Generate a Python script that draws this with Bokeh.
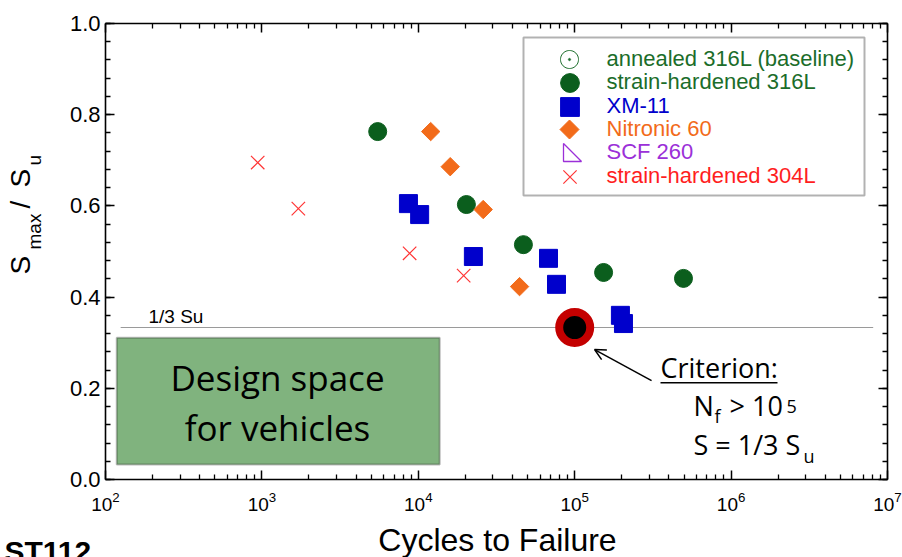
import math

from bokeh.embed import file_html
from bokeh.layouts import column, row
from bokeh.models import (Arrow, BoxAnnotation, FixedTicker, Label, Legend, LegendItem,
                          LinearAxis, LogAxis, LogTickFormatter, OpenHead, PolyAnnotation,
                          PrintfTickFormatter, Range1d, SingleIntervalTicker)
from bokeh.plotting import figure
from bokeh.resources import INLINE

# ---- fatigue data: cycles to failure and S_max / S_u ----
sh316_cycles = [5500, 20300, 47000, 153000, 496000]
sh316_ratio = [0.763, 0.603, 0.515, 0.454, 0.441]

xm11_cycles = [8650, 10200, 22500, 68000, 76500, 196000, 205000]
xm11_ratio = [0.605, 0.581, 0.489, 0.485, 0.428, 0.360, 0.342]

nitronic_cycles = [12000, 16000, 26000, 44400]
nitronic_ratio = [0.763, 0.686, 0.592, 0.423]

sh304_cycles = [940, 1710, 8800, 19500]
sh304_ratio = [0.695, 0.594, 0.496, 0.447]

annealed316_cycles = []
annealed316_ratio = []
scf260_cycles = []
scf260_ratio = []

# design criterion: N_f > 1e5 at S = 1/3 S_u
criterion_cycles = [1e5]
criterion_ratio = [1 / 3]
third_su = 1 / 3

x_decades = [1e2, 1e3, 1e4, 1e5, 1e6, 1e7]
x_minor = [m * d for d in x_decades[:-1] for m in range(2, 10)]

GREEN = "#0b5e1d"
GREEN_TXT = "#1b6d2a"
BLUE = "#0000cc"
ORANGE = "#f26b1a"
PURPLE = "#9b30d8"
RED = "#ff3535"
RED_TXT = "#ff1e1e"

HELV = "Liberation Sans"
CALI = "Open Sans"
# font descent as a fraction of the em size (labels are anchored at their bottom edge)
DESCENT = {HELV: 0.212, CALI: 0.293}


def bare_panel(w, h):
    """A figure whose frame fills it, used only to hold text."""
    f = figure(width=w, height=h, x_range=Range1d(0, 1), y_range=Range1d(0, 1),
               x_axis_location=None, y_axis_location=None,
               output_backend="svg", toolbar_location=None, min_border=0,
               min_border_left=0, min_border_right=0, min_border_top=0, min_border_bottom=0)
    f.grid.visible = False
    f.outline_line_color = None
    f.background_fill_color = "white"
    f.border_fill_color = "white"
    return f


def text(fig, txt, x, y, font, size, rotated=False, **kw):
    """Place txt with its baseline at (x, y) in frame pixels."""
    d = DESCENT[font] * size
    if rotated:
        x, kw["angle"] = x + d, math.pi / 2
    else:
        y = y - d
    fig.add_layout(Label(x=x, y=y, x_units="screen", y_units="screen", text=txt,
                         text_font=font, text_font_size=f"{size}px",
                         text_color="black", **kw))


# ---------------- main chart ----------------
p = figure(width=852, height=520, x_axis_type="log",
           x_range=Range1d(1e2, 1e7), y_range=Range1d(0, 1),
           output_backend="svg", toolbar_location=None,
           min_border_left=55, min_border_right=15,
           min_border_top=23, min_border_bottom=41)
p.grid.visible = False
p.outline_line_color = None
p.background_fill_color = "white"
p.border_fill_color = "white"

x_ticker = FixedTicker(ticks=x_decades, minor_ticks=x_minor)
y_ticker = SingleIntervalTicker(interval=0.2, num_minor_ticks=5)


def frame_axis(ax):
    ax.axis_line_color = "black"
    ax.axis_line_width = 1.6
    ax.major_tick_line_color = "black"
    ax.major_tick_line_width = 1.5
    ax.minor_tick_line_color = "black"
    ax.minor_tick_line_width = 1.3
    ax.major_tick_in = 9
    ax.major_tick_out = 0
    ax.minor_tick_in = 5
    ax.minor_tick_out = 0


def silent_axis(ax):
    frame_axis(ax)
    ax.major_label_text_font_size = "1px"
    ax.major_label_text_alpha = 0
    ax.major_label_standoff = 0


xb = p.xaxis[0]
xb.ticker = x_ticker
xb.formatter = LogTickFormatter()
frame_axis(xb)
xb.major_label_text_font = HELV
xb.major_label_text_font_size = "19px"
xb.major_label_text_color = "black"
xb.major_label_standoff = 12

yl = p.yaxis[0]
yl.ticker = y_ticker
yl.formatter = PrintfTickFormatter(format="%.1f")
frame_axis(yl)
yl.major_label_text_font = HELV
yl.major_label_text_font_size = "22px"
yl.major_label_text_color = "black"
yl.major_label_standoff = 5

xt = LogAxis(ticker=x_ticker)
silent_axis(xt)
p.add_layout(xt, "above")
yr = LinearAxis(ticker=y_ticker)
silent_axis(yr)
p.add_layout(yr, "right")

# design space box and the 1/3 S_u threshold
p.add_layout(BoxAnnotation(left=118, right=13700, bottom=0.033, top=0.311,
                           fill_color="#80b37e", fill_alpha=1.0,
                           line_color="#1a1a1a", line_width=2))
p.segment(x0=[125], y0=[third_su], x1=[8.1e6], y1=[third_su],
          line_color="#9a9a9a", line_width=1.2)
text(p, "1/3 Su", 43, 157, HELV, 19)
text(p, "Design space", 172, 89, CALI, 35, text_align="center")
text(p, "for vehicles", 172, 39, CALI, 35, text_align="center")

# data series
r_annealed = p.scatter(annealed316_cycles, annealed316_ratio, marker="circle_dot",
                       size=18, fill_color="white", line_color=GREEN_TXT, line_width=1)
r_sh316 = p.scatter(sh316_cycles, sh316_ratio, marker="circle", size=18,
                    fill_color=GREEN, line_color=GREEN, line_width=1)
r_xm11 = p.scatter(xm11_cycles, xm11_ratio, marker="square", size=18,
                   fill_color=BLUE, line_color=BLUE, line_width=1)
r_nitronic = p.scatter(nitronic_cycles, nitronic_ratio, marker="square", size=13,
                       angle=math.pi / 4, fill_color=ORANGE, line_color=ORANGE, line_width=1)
r_scf = p.scatter(scf260_cycles, scf260_ratio, marker="triangle", size=18,
                  fill_color="white", line_color=PURPLE, line_width=1.2)
r_sh304 = p.scatter(sh304_cycles, sh304_ratio, marker="x", size=19,
                    line_color=RED, line_width=1.2)
# legend-only stand-in for the diamond key (legend keys are never rotated)
nitronic_key = p.scatter([], [], marker="diamond", size=18, fill_color=ORANGE,
                         line_color=ORANGE)

# criterion marker, arrow and note
p.scatter(criterion_cycles, criterion_ratio, marker="circle", size=31,
          fill_color="black", line_color="#c40000", line_width=8)
p.add_layout(Arrow(end=OpenHead(size=11, line_width=1.5, line_color="black"),
                   x_start=3.1e5, y_start=0.217, x_end=1.34e5, y_end=0.285,
                   line_color="black", line_width=1.5))
text(p, "Criterion:", 555, 101, CALI, 27)
text(p, "N", 588, 63, CALI, 27)
text(p, "f", 609, 57, CALI, 18)
text(p, "> 10", 624, 63, CALI, 27)
text(p, "5", 681, 72, CALI, 18)
text(p, "S = 1/3 S", 588, 24, CALI, 27)
text(p, "u", 698, 17, CALI, 18)
p.add_layout(BoxAnnotation(left=555, right=672, bottom=96, top=97.5,
                           left_units="screen", right_units="screen",
                           top_units="screen", bottom_units="screen",
                           fill_color="black", fill_alpha=1, line_alpha=0))

# legend: framed box, one row per alloy so each label keeps its own colour
p.add_layout(BoxAnnotation(left=418, right=759, bottom=284, top=442,
                           left_units="screen", right_units="screen",
                           top_units="screen", bottom_units="screen",
                           fill_color="white", fill_alpha=1,
                           line_color="black", line_width=2))
rows = [("annealed 316L (baseline)", r_annealed, GREEN_TXT),
        ("strain-hardened 316L", r_sh316, GREEN_TXT),
        ("XM-11", r_xm11, BLUE),
        ("Nitronic 60", nitronic_key, ORANGE),
        ("SCF 260", r_scf, PURPLE),
        ("strain-hardened 304L", r_sh304, RED_TXT)]
row_centres = [420, 397, 373, 350, 327, 303]
key_x = 464
for (lab, rend, col), yc in zip(rows, row_centres):
    p.add_layout(Legend(items=[LegendItem(label=lab, renderers=[rend])],
                        location=(key_x - 23.5, yc - 23.5), glyph_width=47, glyph_height=47,
                        label_standoff=14, padding=0, margin=0, spacing=0,
                        border_line_alpha=0, background_fill_alpha=0,
                        label_text_font=HELV, label_text_font_size="22px",
                        label_text_color=col))


def screen_poly(xs, ys, **kw):
    p.add_layout(PolyAnnotation(xs=xs, ys=ys, xs_units="screen", ys_units="screen",
                                line_alpha=1, **kw))


# open circle with centre dot (annealed 316L key)
ring = [2 * math.pi * k / 48 for k in range(48)]
screen_poly([key_x + 9 * math.cos(a) for a in ring], [420 + 9 * math.sin(a) for a in ring],
            fill_color="white", fill_alpha=1, line_color=GREEN_TXT, line_width=1)
screen_poly([key_x + 1.2 * math.cos(a) for a in ring], [420 + 1.2 * math.sin(a) for a in ring],
            fill_color=GREEN_TXT, fill_alpha=1, line_color=GREEN_TXT, line_width=0.5)
# diamond (Nitronic 60 key)
screen_poly([key_x, key_x + 9.5, key_x, key_x - 9.5], [359.5, 350, 340.5, 350],
            fill_color=ORANGE, fill_alpha=1, line_color=ORANGE, line_width=1)
# right-angled triangle (SCF 260 key)
screen_poly([key_x - 6, key_x - 6, key_x + 12], [336, 318, 318],
            fill_color="white", fill_alpha=1, line_color=PURPLE, line_width=1.3)

# ---------------- y axis title strip ----------------
ystrip = bare_panel(50, 520)
for txt, xx, yy, fs in [("S", 30, 205, 28), ("max", 40, 230, 19),
                        ("/", 30, 271, 28), ("S", 30, 292, 28),
                        ("u", 40, 314, 19)]:
    text(ystrip, txt, xx, yy, HELV, fs, rotated=True)

# ---------------- x axis title and page tag ----------------
footer = bare_panel(902, 37)
text(footer, "Cycles to Failure", 497, 6, HELV, 32, text_align="center")
text(footer, "ST112", 4, -4, HELV, 30, text_font_style="bold")

page = column(row(ystrip, p, spacing=0), footer, spacing=0)
open("out.html", "w").write(file_html(page, INLINE))
